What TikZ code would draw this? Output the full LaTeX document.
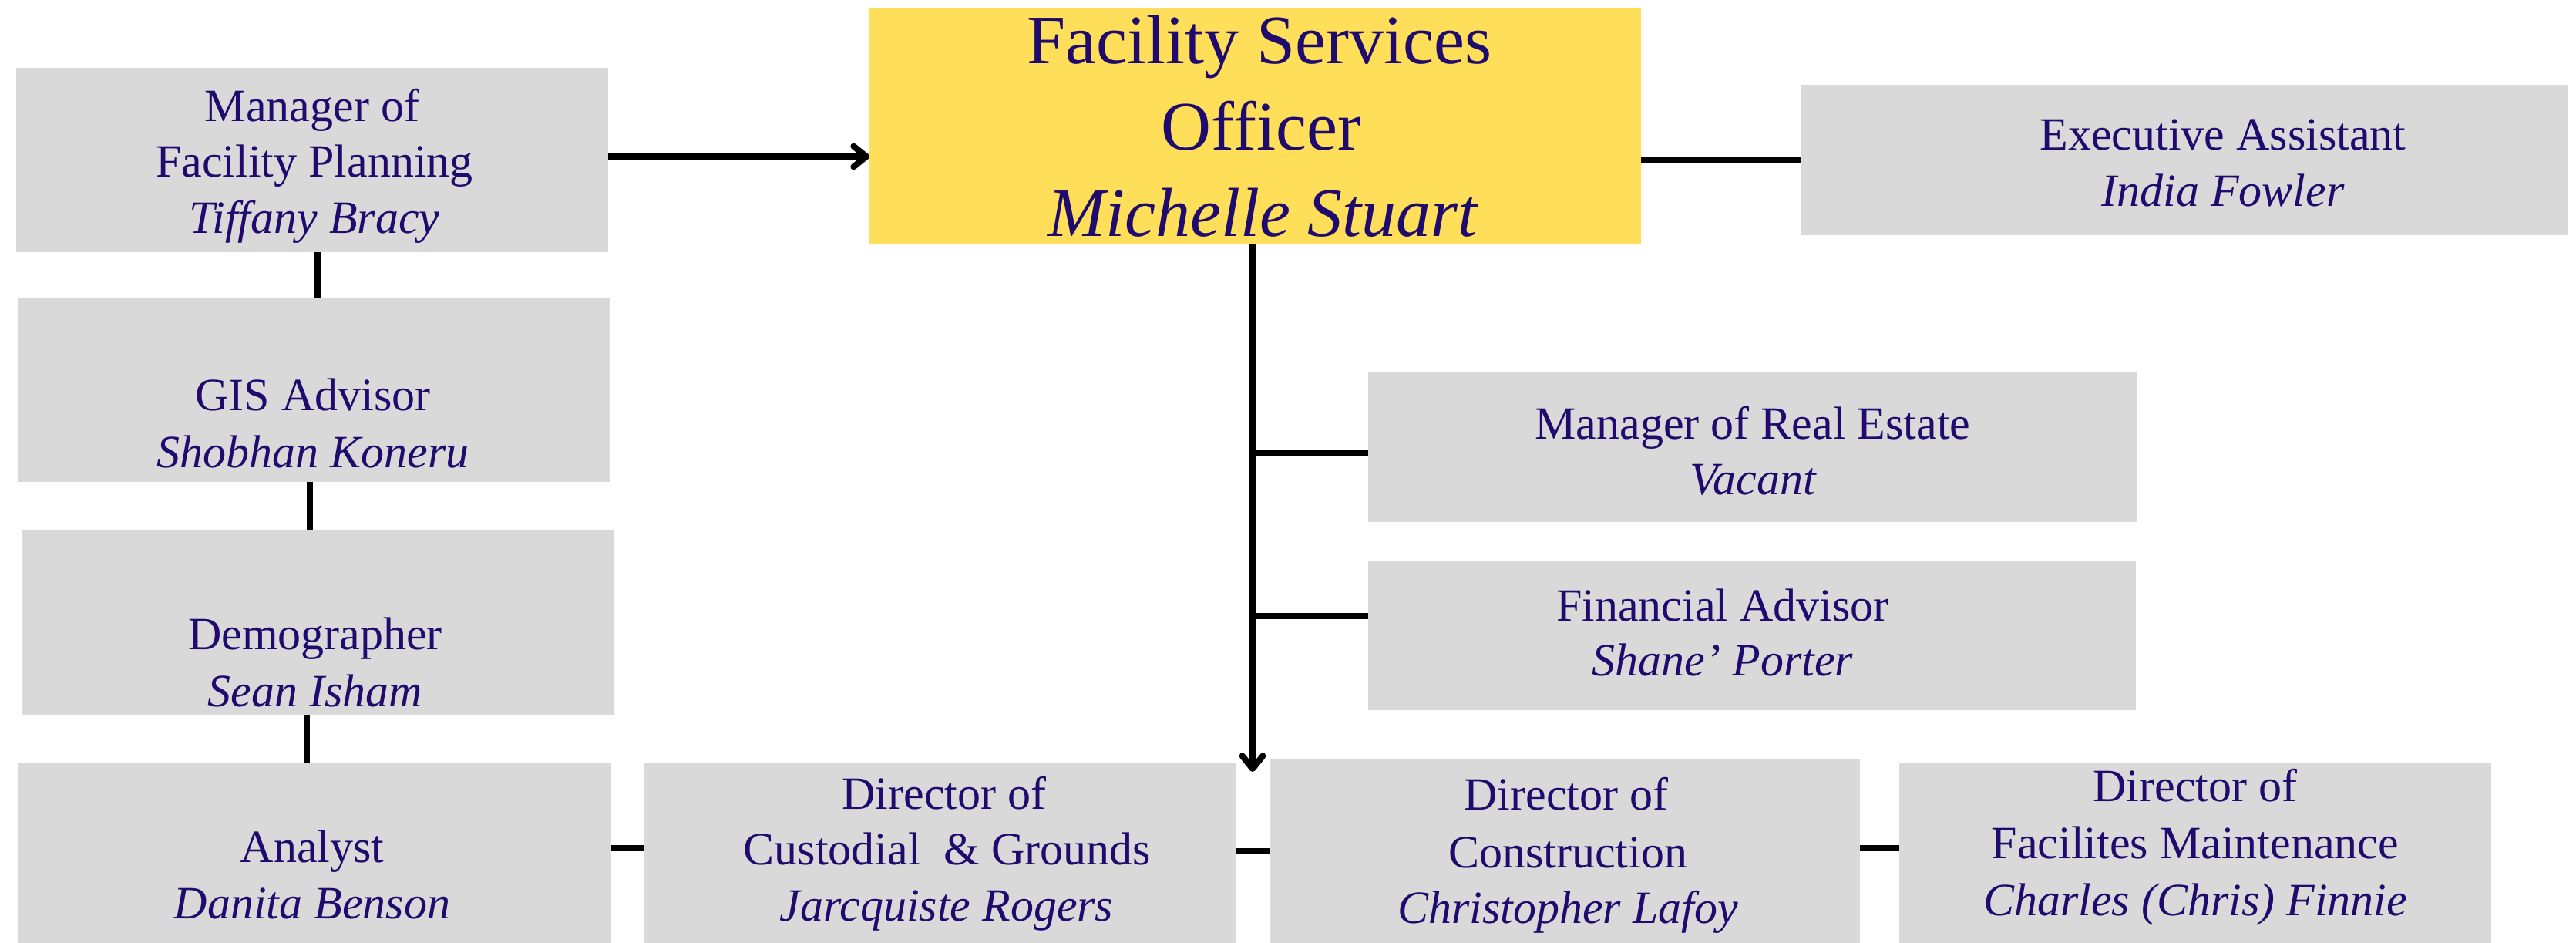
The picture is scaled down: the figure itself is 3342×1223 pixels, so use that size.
\documentclass[tikz,border=0pt]{standalone}
\usepackage{fontspec}
\setmainfont{Liberation Serif}
\usetikzlibrary{fit,calc,arrows.meta}
\definecolor{boxgray}{HTML}{D9D9D9}
\definecolor{offyellow}{HTML}{FFDE59}
\definecolor{ink}{HTML}{1F0A6E}
\tikzset{
  gbox/.style={fill=boxgray, draw=none, inner sep=0pt, outer sep=0pt},
  ybox/.style={fill=offyellow, draw=none, inner sep=0pt, outer sep=0pt},
  txt/.style={anchor=base, inner sep=0pt, text=ink, font=\fontsize{18}{22}\selectfont},
  ttl/.style={anchor=base, inner sep=0pt, text=ink, font=\fontsize{27}{33}\selectfont},
  conn/.style={line width=2.4pt, black},
  arr/.style={conn, -{Straight Barb[length=5pt,width=8pt,round]}}
}
\begin{document}
\begin{tikzpicture}[x=0.3pt,y=-0.3pt]
\useasboundingbox (0,0) rectangle (3342,1223);
% boxes
\node[gbox, fit={(21,88) (789,327)}] (mgr) {};
\node[gbox, fit={(24,387) (791,625)}] (gis) {};
\node[gbox, fit={(28,688) (796,927)}] (demo) {};
\node[gbox, fit={(24,989) (793,1223)}] (analyst) {};
\node[gbox, fit={(835,989) (1604,1223)}] (cust) {};
\node[gbox, fit={(1647,985) (2413,1223)}] (cons) {};
\node[gbox, fit={(2464,989) (3232,1223)}] (maint) {};
\node[ybox, fit={(1128,10) (2129,317)}] (officer) {};
\node[gbox, fit={(2337,110) (3332,305)}] (exec) {};
\node[gbox, fit={(1775,482) (2772,677)}] (realestate) {};
\node[gbox, fit={(1775,727) (2771,921)}] (fin) {};
% texts
\node[ttl] (offT1) at (1634,83) {Facility Services};
\node[ttl] (offT2) at (1636,195) {Officer};
\node[ttl] (offT3) at (1638,307) {\itshape Michelle Stuart};
\node[txt] (mgrT1) at (405,157.5) {Manager of};
\node[txt] (mgrT2) at (408,230) {Facility Planning};
\node[txt] (mgrT3) at (408,302.6) {\itshape Tiffany Bracy};
\node[txt] (gisT1) at (406,533) {GIS Advisor};
\node[txt] (gisT2) at (406,606) {\itshape Shobhan Koneru};
\node[txt] (demoT1) at (409,842.6) {Demographer};
\node[txt] (demoT2) at (409,916) {\itshape Sean Isham};
\node[txt] (anT1) at (405,1118) {Analyst};
\node[txt] (anT2) at (405,1191) {\itshape Danita Benson};
\node[txt] (custT1) at (1225,1049.5) {Director of};
\node[txt] (custT2) at (1229,1121.5) {Custodial\ \ \& Grounds};
\node[txt] (custT3) at (1228,1194) {\itshape Jarcquiste Rogers};
\node[txt] (consT1) at (2032,1050) {Director of};
\node[txt] (consT2) at (2034,1125) {Construction};
\node[txt] (consT3) at (2034,1197) {\itshape Christopher Lafoy};
\node[txt] (mainT1) at (2848,1039) {Director of};
\node[txt] (mainT2) at (2848,1113) {Facilites Maintenance};
\node[txt] (mainT3) at (2848,1187) {\itshape Charles (Chris) Finnie};
\node[txt] (execT1) at (2884,195) {Executive Assistant};
\node[txt] (execT2) at (2884,268) {\itshape India Fowler};
\node[txt] (reT1) at (2274,570) {Manager of Real Estate};
\node[txt] (reT2) at (2274,641) {\itshape Vacant};
\node[txt] (finT1) at (2235,805) {Financial Advisor};
\node[txt] (finT2) at (2235,876) {\itshape Shane’ Porter};
% connectors
\coordinate (tip) at (1625,1001);
\draw[arr] ($(mgr.east)+(0,-4.5)$) -- ($(mgr.east -| officer.west)+(0,-4.5)$);
\draw[conn] (officer.east |- exec.west) -- (exec.west);
\draw[conn] ($(mgr.south)+(7,0)$) -- ($(mgr.south |- gis.north)+(7,0)$);
\draw[conn] ($(gis.south)+(-6,0)$) -- ($(gis.south |- demo.north)+(-6,0)$);
\draw[conn] ($(demo.south)+(-14,0)$) -- ($(demo.south |- analyst.north)+(-14,0)$);
\draw[arr] (tip |- officer.south) -- (tip);
\coordinate (reJ) at ($(realestate.west)+(0,8)$);
\draw[conn] (reJ) -- (reJ -| tip);
\coordinate (finJ) at ($(fin.west)+(0,-25.5)$);
\draw[conn] (finJ) -- (finJ -| tip);
\draw[conn] ($(analyst.east)+(0,-6)$) -- ($(analyst.east -| cust.west)+(0,-6)$);
\draw[conn] ($(cust.east)+(0,-2)$) -- ($(cust.east -| cons.west)+(0,-2)$);
\draw[conn] ($(cons.east)+(0,-4)$) -- ($(cons.east -| maint.west)+(0,-4)$);
\end{tikzpicture}
\end{document}
